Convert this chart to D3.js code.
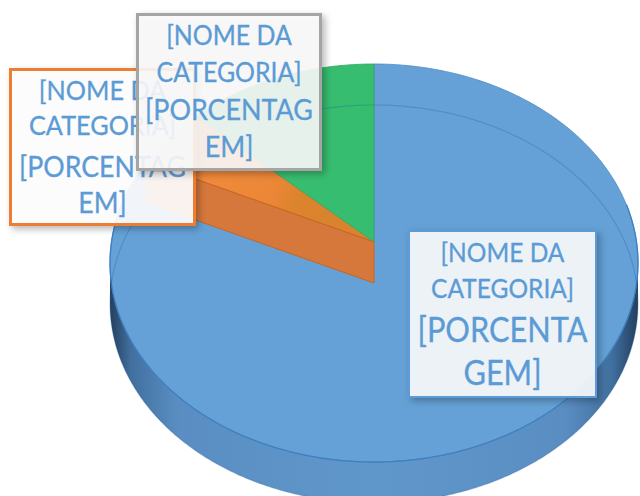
<!DOCTYPE html>
<html><head><meta charset="utf-8">
<script src="https://cdn.jsdelivr.net/npm/d3@7"></script>
<style>html,body{margin:0;padding:0;background:#fff;overflow:hidden}</style>
</head><body>
<svg id="chart" width="640" height="496"></svg>
<script>
// ---- data ----
const categories = ["[NOME DA CATEGORIA]", "[NOME DA CATEGORIA]", "[NOME DA CATEGORIA]"];
const values = [82, 5, 13];
const percentLabels = ["[PORCENTAGEM]", "[PORCENTAGEM]", "[PORCENTAGEM]"];
const sliceColors = ["#65a1d6", "#e0852f", "#37bd70"];
const labelBorders = ["#5b9bd5", "#ed7d31", "#a5a5a5"];

// ---- layout ----
const svg = d3.select("#chart");
const P = {cx: 374, cy: 242, rx: 262.5, ry: 196.8, k: 0.1055, depth: 41};
function proj(theta, dz) {
  const u = Math.sin(theta), v = -Math.cos(theta);
  const s = 1 / (1 - P.k * v);
  return [P.cx + P.rx * u * s, P.cy + P.ry * v * s + (dz || 0)];
}
function rim(a0, a1, dz) {
  const n = Math.max(2, Math.ceil(Math.abs(a1 - a0) / 0.01));
  return d3.range(n + 1).map(i => proj(a0 + (a1 - a0) * i / n, dz));
}
const line = d3.line();
const arcs = d3.pie().sort(null).value(d => d)(values);

const defs = svg.append("defs");
const sideGrad = defs.append("linearGradient").attr("id", "sideGrad")
  .attr("gradientUnits", "userSpaceOnUse").attr("x1", 110).attr("x2", 638).attr("y1", 0).attr("y2", 0);
[[0, "#233f5e"], [0.04, "#41709f"], [0.13, "#5a8ec3"], [0.5, "#6097cb"], [0.86, "#5a8ec3"], [0.95, "#41709f"], [1, "#233f5e"]]
  .forEach(([o, c]) => sideGrad.append("stop").attr("offset", o).attr("stop-color", c));
const orGrad = defs.append("linearGradient").attr("id", "orGrad")
  .attr("gradientUnits", "userSpaceOnUse").attr("x1", 200).attr("x2", 374).attr("y1", 170).attr("y2", 240);
[[0, "#f08a3c"], [0.4, "#ec8737"], [0.55, "#db832d"], [1, "#d98330"]]
  .forEach(([o, c]) => orGrad.append("stop").attr("offset", o).attr("stop-color", c));
const sh = defs.append("filter").attr("id", "shadow").attr("x", "-10%").attr("y", "-10%").attr("width", "130%").attr("height", "130%");
sh.append("feDropShadow").attr("dx", 3).attr("dy", 3).attr("stdDeviation", 3.5)
  .attr("flood-color", "#000").attr("flood-opacity", 0.3);

const g = svg.append("g");

// outer side wall (front visible part)
const tR = Math.acos(-P.k), tL = 2 * Math.PI - tR;
const sidePts = rim(tR, tL, 0).concat(rim(tL, tR, P.depth));
g.append("path").attr("d", line(sidePts) + "Z").attr("fill", "url(#sideGrad)");

// top faces
arcs.forEach((a, i) => {
  const pts = [[P.cx, P.cy]].concat(rim(a.startAngle, a.endAngle, 0));
  g.append("path").attr("d", line(pts) + "Z")
    .attr("fill", i === 1 ? "url(#orGrad)" : sliceColors[i])
    .attr("stroke", i === 0 ? "#4f8cc6" : (i === 1 ? "#d27328" : "#2fa862"))
    .attr("stroke-width", 0.8).attr("stroke-linejoin", "round");
});

// radial wall of the orange slice (facing the viewer)
const wa = arcs[1].startAngle;
const w0 = proj(wa, 0), w1 = proj(wa, P.depth);
g.append("path").attr("d", line([[P.cx, P.cy], w0, w1, [P.cx, P.cy + P.depth]]) + "Z")
  .attr("fill", "#d6783c").attr("stroke", "#c8661f").attr("stroke-width", 1);

// top rim outline (front)
g.append("path").attr("d", line(rim(tR - 0.3, tL + 0.3, 0)))
  .attr("fill", "none").attr("stroke", "#3f7fc0").attr("stroke-width", 1.3);
// faint see-through bottom rim
g.append("path").attr("d", line(rim(0, 2 * Math.PI, P.depth)) + "Z")
  .attr("fill", "none").attr("stroke", "#1f5f9e").attr("stroke-opacity", 0.28).attr("stroke-width", 1.2);

// ---- labels ----
const boxes = [
  {i: 1, x: 10.5, y: 69.5, w: 184, h: 155, sw: 3, fill: "rgba(255,255,255,0.9)",
   base: [100, 135, 177, 213], pctSplit: 10, catW: 147, pctW: 167},
  {i: 2, x: 137.5, y: 14.5, w: 183, h: 155, sw: 3, fill: "rgba(250,250,250,0.88)",
   base: [45, 82, 120, 157], pctSplit: 10, catW: 145, pctW: 168},
  {i: 0, x: 409, y: 231, w: 187, h: 166, sw: 2, fill: "rgba(255,255,255,0.87)",
   base: [262, 298, 342, 385], pctSplit: 9, catW: 143, pctW: 170}
];
boxes.forEach(b => {
  const lg = svg.append("g");
  lg.append("rect").attr("x", b.x).attr("y", b.y).attr("width", b.w).attr("height", b.h)
    .attr("fill", b.fill).attr("stroke", labelBorders[b.i]).attr("stroke-width", b.sw)
    .attr("filter", "url(#shadow)");
  const name = categories[b.i];
  const sp = name.indexOf(" ", name.indexOf(" ") + 1);
  const catLines = [name.slice(0, sp), name.slice(sp + 1)];
  const pct = percentLabels[b.i];
  const pctLines = [pct.slice(0, b.pctSplit), pct.slice(b.pctSplit)];
  const cx = b.x + b.w / 2;
  function addLines(lines, bases, targetW, widestIdx) {
    const ts = lines.map((t, j) => lg.append("text")
      .attr("transform", `translate(${cx},${bases[j]}) scale(1,1.1)`)
      .attr("text-anchor", "middle").attr("fill", "#5b9bd5")
      .attr("stroke", "#5b9bd5").attr("stroke-width", 0.3)
      .style("font-family", "Lato, 'Open Sans', sans-serif").style("font-size", "24px").text(t));
    const w = ts[widestIdx].node().getComputedTextLength();
    const fs = 24 * targetW / w;
    ts.forEach(t => t.style("font-size", fs + "px"));
  }
  addLines(catLines, b.base.slice(0, 2), b.catW, 1);
  addLines(pctLines, b.base.slice(2), b.pctW, 0);
});
</script>
</body></html>
